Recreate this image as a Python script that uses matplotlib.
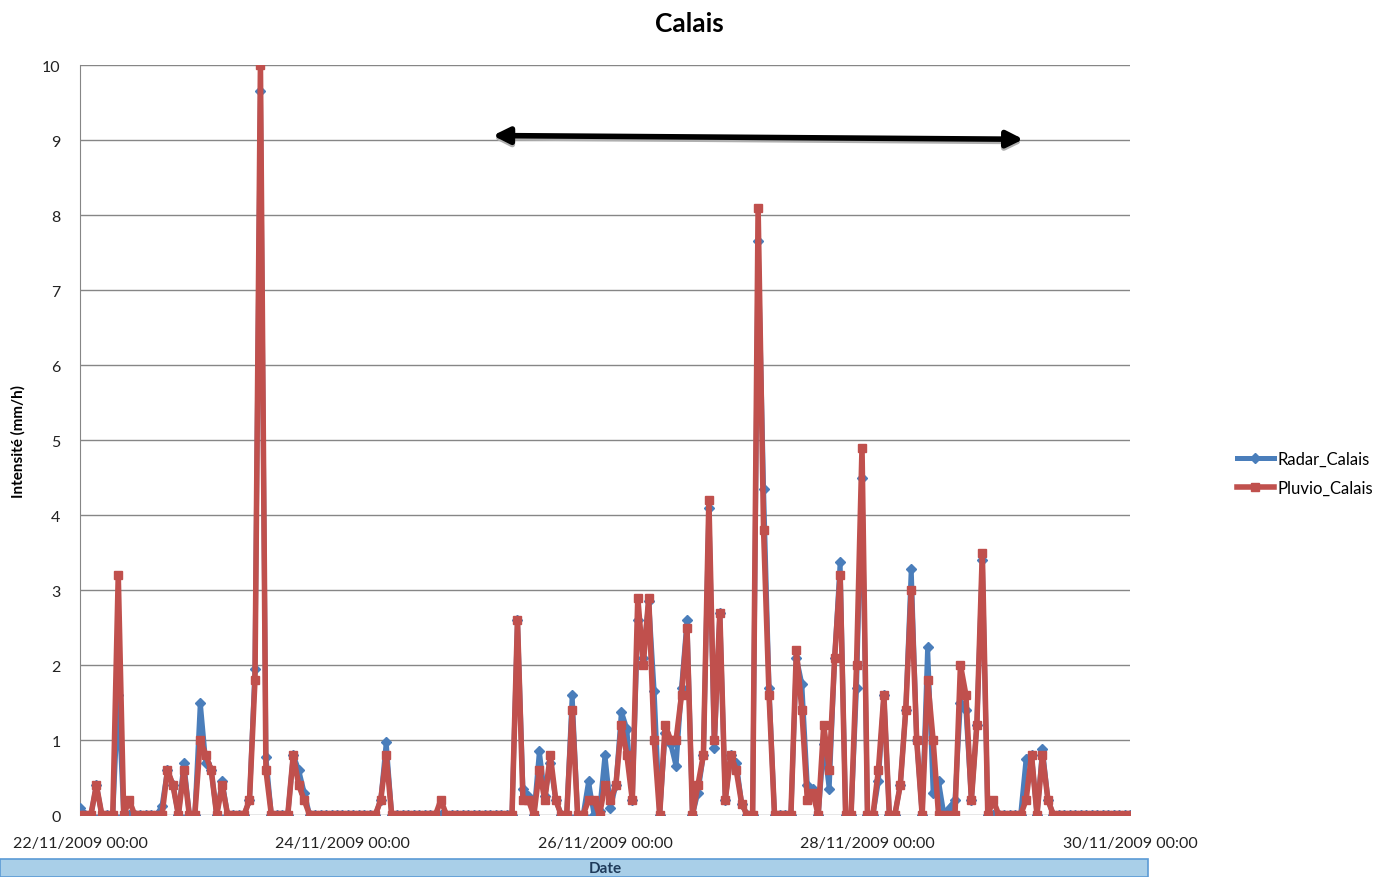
import pandas as pd
import numpy as np
import matplotlib
matplotlib.use('Agg')
import matplotlib.pyplot as plt
import matplotlib.dates as mdates
from matplotlib.patches import Rectangle

plt.rcParams['font.family'] = ['Lato', 'DejaVu Sans']

# Hourly intensities (mm/h), 22/11/2009 00:00 -> 30/11/2009 00:00, one row per day
pluvio_calais = (
    [0, 0, 0, 0.4, 0, 0, 0, 3.2, 0, 0.2, 0, 0, 0, 0, 0, 0, 0.6, 0.4, 0, 0.6, 0, 0, 1.0, 0.8]
    + [0.6, 0, 0.4, 0, 0, 0, 0, 0.2, 1.8, 10.0, 0.6, 0, 0, 0, 0, 0.8, 0.4, 0.2, 0, 0, 0, 0, 0, 0]
    + [0, 0, 0, 0, 0, 0, 0, 0.2, 0.8, 0, 0, 0, 0, 0, 0, 0, 0, 0, 0.2, 0, 0, 0, 0, 0]
    + [0, 0, 0, 0, 0, 0, 0, 0, 2.6, 0.2, 0.2, 0, 0.6, 0.2, 0.8, 0.2, 0, 0, 1.4, 0, 0, 0.2, 0.2, 0]
    + [0.4, 0.2, 0.4, 1.2, 0.8, 0.2, 2.9, 2.0, 2.9, 1.0, 0, 1.2, 1.0, 1.0, 1.6, 2.5, 0, 0.4, 0.8, 4.2, 1.0, 2.7, 0.2, 0.8]
    + [0.6, 0.15, 0, 0, 8.1, 3.8, 1.6, 0, 0, 0, 0, 2.2, 1.4, 0.2, 0.3, 0, 1.2, 0.6, 2.1, 3.2, 0, 0, 2.0, 4.9]
    + [0, 0, 0.6, 1.6, 0, 0, 0.4, 1.4, 3.0, 1.0, 0, 1.8, 1.0, 0, 0, 0, 0, 2.0, 1.6, 0.2, 1.2, 3.5, 0, 0.2]
    + [0, 0, 0, 0, 0, 0.2, 0.8, 0, 0.8, 0.2, 0, 0, 0, 0, 0, 0, 0, 0, 0, 0, 0, 0, 0, 0]
    + [0]
)

radar_calais = (
    [0.1, 0, 0, 0.4, 0, 0, 0, 1.6, 0, 0, 0, 0, 0, 0, 0, 0.12, 0.6, 0.4, 0, 0.7, 0, 0, 1.5, 0.7]
    + [0.6, 0, 0.45, 0, 0, 0, 0, 0.2, 1.95, 9.65, 0.78, 0, 0, 0, 0, 0.8, 0.6, 0.3, 0, 0, 0, 0, 0, 0]
    + [0, 0, 0, 0, 0, 0, 0, 0.2, 0.97, 0, 0, 0, 0, 0, 0, 0, 0, 0, 0, 0, 0, 0, 0, 0]
    + [0, 0, 0, 0, 0, 0, 0, 0, 2.6, 0.35, 0.25, 0, 0.85, 0.25, 0.7, 0.2, 0, 0, 1.6, 0, 0, 0.45, 0, 0.05]
    + [0.8, 0.1, 0.4, 1.38, 1.15, 0.2, 2.6, 2.1, 2.85, 1.65, 0, 1.1, 0.95, 0.65, 1.7, 2.6, 0, 0.3, 0.8, 4.1, 0.9, 2.7, 0.2, 0.8]
    + [0.7, 0.15, 0, 0, 7.65, 4.35, 1.7, 0, 0, 0, 0, 2.1, 1.75, 0.4, 0.35, 0, 0.95, 0.35, 2.1, 3.37, 0, 0, 1.7, 4.5]
    + [0, 0, 0.45, 1.6, 0, 0, 0.4, 1.4, 3.28, 1.0, 0, 2.24, 0.3, 0.45, 0, 0.1, 0.2, 1.5, 1.4, 0.2, 1.2, 3.4, 0, 0]
    + [0, 0, 0, 0, 0, 0.75, 0.8, 0, 0.88, 0.2, 0, 0, 0, 0, 0, 0, 0, 0, 0, 0, 0, 0, 0, 0]
    + [0]
)

dates = pd.date_range('2009-11-22 00:00', periods=len(pluvio_calais), freq='h')
tick_dates = pd.date_range('2009-11-22', '2009-11-30', freq='2D')
y_ticks = list(range(0, 11))

fig = plt.figure(figsize=(13.74, 8.78), dpi=100)
ax = fig.add_axes([0.0582, 0.0706, 0.7642, 0.8542])

ax.plot(dates, radar_calais, color='#4A7EBB', lw=3.6, marker='D', ms=5,
        label='Radar_Calais', zorder=3)
ax.plot(dates, pluvio_calais, color='#C0504D', lw=4.0, marker='s', ms=6,
        label='Pluvio_Calais', zorder=4)

ax.set_ylim(0, 10)
ax.set_xlim(tick_dates[0], tick_dates[-1])
ax.set_yticks(y_ticks)
ax.set_xticks(tick_dates)
ax.xaxis.set_major_formatter(mdates.DateFormatter('%d/%m/%Y %H:%M'))
ax.grid(axis='y', color='#868686', lw=1)
ax.set_axisbelow(True)
for side in ['top', 'right', 'bottom']:
    ax.spines[side].set_visible(False)
ax.spines['left'].set_color('#868686')
ax.tick_params(axis='both', length=0, labelsize=11.5, colors='#222222')
ax.tick_params(axis='x', pad=15)
ax.tick_params(axis='y', pad=14)

ax.set_ylabel('Intensité (mm/h)', fontsize=11, fontweight='bold')
ax.yaxis.set_label_coords(-0.052, 0.5)
fig.text(0.502, 0.973, 'Calais', fontsize=19, fontweight='bold', ha='center', va='center')

# double arrow over the period 25/11 - 29/11
arrow_start = pd.Timestamp('2009-11-25 03:30')
arrow_end = pd.Timestamp('2009-11-29 04:30')
ax.annotate('', xy=(arrow_end, 8.98), xytext=(arrow_start, 9.03),
            arrowprops=dict(arrowstyle='<|-|>', color='#b0b0b0', lw=4, mutation_scale=24,
                            shrinkA=0, shrinkB=0), zorder=5)
ax.annotate('', xy=(arrow_end, 9.01), xytext=(arrow_start, 9.06),
            arrowprops=dict(arrowstyle='<|-|>', color='black', lw=4, mutation_scale=24,
                            shrinkA=0, shrinkB=0), zorder=6)

# "Date" bar under the axis
fig.patches.append(Rectangle((0, 0), 1148 / 1374, 18 / 878, transform=fig.transFigure,
                             facecolor='#A9CFE8', edgecolor='#5B9BD5', lw=1.2))
fig.text(605 / 1374, 9 / 878, 'Date', fontsize=11, fontweight='bold', color='#1F3B5A',
         ha='center', va='center')

fig.legend(loc='center left', bbox_to_anchor=(1222 / 1374, 1 - 474 / 878), frameon=False,
           fontsize=12, handlelength=2.2, handletextpad=0.25, labelspacing=0.8)

fig.savefig('out.png', dpi=100)
